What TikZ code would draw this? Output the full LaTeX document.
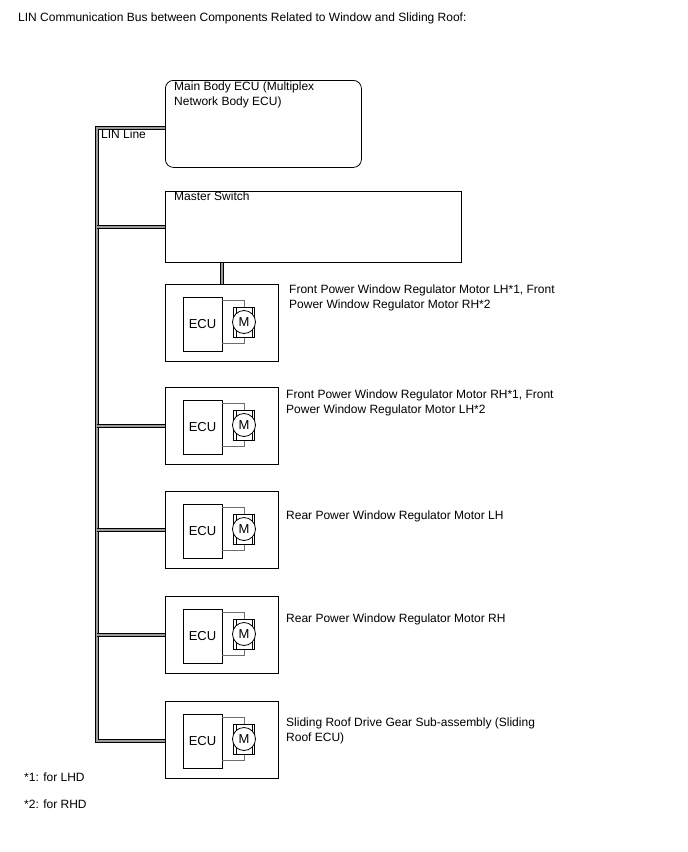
\documentclass[tikz,border=0pt]{standalone}
\usepackage{fontspec}
\setmainfont{Liberation Sans}
\usetikzlibrary{positioning, calc}
\definecolor{busgray}{RGB}{155,155,155}
\definecolor{wiregray}{RGB}{110,110,110}
\tikzset{
  unitbox/.style={rectangle, draw=black, line width=0.8pt, anchor=north west,
    minimum width=113pt, minimum height=77pt, inner sep=0pt},
  bigbox/.style={rectangle, draw=black, line width=0.8pt, anchor=north west, inner sep=0pt},
  ecubox/.style={rectangle, draw=black, line width=0.8pt,
    minimum width=39pt, minimum height=54pt, inner sep=0pt,
    font=\fontsize{13}{15}\selectfont},
  motcase/.style={rectangle, draw=black, line width=0.7pt,
    minimum width=21pt, minimum height=30pt, inner sep=0pt},
  motor/.style={circle, draw=black, fill=white, line width=0.8pt,
    minimum size=23pt, inner sep=0pt, font=\fontsize{13}{15}\selectfont},
  txt/.style={anchor=north west, inner sep=0pt, align=left},
  linbus/.style={draw=black, line width=0.7pt, double=busgray, double distance=2pt},
  wire/.style={draw=wiregray, line width=0.6pt}
}
\begin{document}
\begin{tikzpicture}[x=1pt, y=-1pt, every node/.style={font=\fontsize{12}{14.8}\selectfont}]
  \useasboundingbox (0,0) rectangle (688,852);
  \node[txt] (title) at (18,13) {LIN Communication Bus between Components Related to Window and Sliding Roof:};

  % Main Body ECU and Master Switch
  \node[bigbox, rounded corners=8pt, minimum width=196pt, minimum height=87pt] (main) at (165,80) {};
  \node[txt] (mainlbl) at (174,82) {Main Body ECU (Multiplex\\Network Body ECU)};
  \node[bigbox, minimum width=296pt, minimum height=71pt] (ms) at (165,191) {};
  \node[txt] (mslbl) at (174,192) {Master Switch};

  % Window and roof units
  \foreach \n/\y in {1/284,2/387,3/491,4/596,5/701} {
    \node[unitbox] (box\n) at (165,\y) {};
    \node[ecubox] (ecu\n) at (202.5,\y+40) {ECU};
    \node[motcase] (case\n) at (244,\y+38.5) {};
    \draw[line width=0.6pt] ([xshift=3pt]case\n.north west) -- ([xshift=3pt]case\n.south west);
    \draw[line width=0.6pt] ([xshift=-3pt]case\n.north east) -- ([xshift=-3pt]case\n.south east);
    \draw[wire] ([yshift=-4pt]ecu\n.north east) -| (case\n.north);
    \draw[wire] ([yshift=8pt]ecu\n.south east) -| (case\n.south);
    \node[motor] (mot\n) at (244,\y+38) {M};
  }
  \node[txt] (lbl1) at (289,285) {Front Power Window Regulator Motor LH*1, Front\\Power Window Regulator Motor RH*2};
  \node[txt] (lbl2) at (286,390) {Front Power Window Regulator Motor RH*1, Front\\Power Window Regulator Motor LH*2};
  \node[txt] (lbl3) at (286,511) {Rear Power Window Regulator Motor LH};
  \node[txt] (lbl4) at (286,614) {Rear Power Window Regulator Motor RH};
  \node[txt] (lbl5) at (286,718) {Sliding Roof Drive Gear Sub-assembly (Sliding\\Roof ECU)};

  % LIN line
  \coordinate (lintop) at (97,128);
  \coordinate (linbot) at (97,741);
  \draw[linbus] (lintop -| main.west) -- (lintop) -- (linbot) -- (linbot -| box5.west);
  \draw[linbus] (lintop |- ms.west) -- (ms.west);
  \foreach \n in {2,3,4}
    \draw[linbus] (lintop |- box\n.west) -- (box\n.west);
  \draw[linbus] (ms.south -| box1.north) -- (box1.north);
  \node[txt] (linlbl) at (101,130) {LIN Line};

  % Notes
  \node[txt] (note1) at (24,773) {*1: for LHD};
  \node[txt] (note2) at (24,800) {*2: for RHD};
\end{tikzpicture}
\end{document}
